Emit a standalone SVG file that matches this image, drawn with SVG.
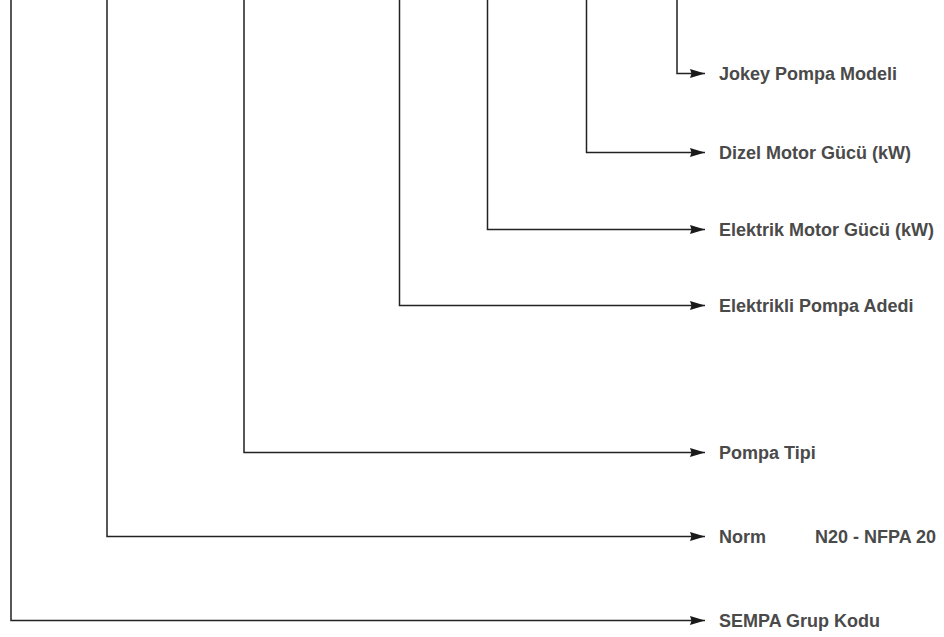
<svg xmlns="http://www.w3.org/2000/svg" width="944" height="637" viewBox="0 0 944 637">
<defs>
<marker id="arr" markerUnits="userSpaceOnUse" markerWidth="16" markerHeight="10" refX="15" refY="4.5" orient="auto">
<path d="M0,0 L15,4.5 L0,9 L1.5,4.5 z" fill="#1a1a1a"/>
</marker>
<style>
.c{fill:none;stroke:#222;stroke-width:1.5;marker-end:url(#arr)}
.t{font-family:"Liberation Sans",Arial,sans-serif;font-weight:bold;font-size:18px;fill:#4a4a4a}
</style>
</defs>
<rect width="944" height="637" fill="#fff"/>
<g id="connectors">
<path class="c" d="M677,0 V73.5 H705"/>
<path class="c" d="M586.5,0 V152.5 H705"/>
<path class="c" d="M487.5,0 V229.5 H705"/>
<path class="c" d="M399.5,0 V305.5 H705"/>
<path class="c" d="M244,0 V452.5 H705"/>
<path class="c" d="M107,0 V536.5 H705"/>
<path class="c" d="M11,0 V620.5 H705"/>
</g>
<g id="jokey"><text class="t" x="719" y="80">Jokey Pompa Modeli</text></g>
<g id="dizel"><text class="t" x="719" y="159">Dizel Motor Gücü (kW)</text></g>
<g id="elektrik"><text class="t" x="719" y="236">Elektrik Motor Gücü (kW)</text></g>
<g id="adet"><text class="t" x="719" y="312">Elektrikli Pompa Adedi</text></g>
<g id="tip"><text class="t" x="719" y="459">Pompa Tipi</text></g>
<g id="norm"><text class="t" x="719" y="543">Norm</text><text class="t" x="815" y="543">N20 - NFPA 20</text></g>
<g id="grup"><text class="t" x="719" y="627">SEMPA Grup Kodu</text></g>
</svg>
